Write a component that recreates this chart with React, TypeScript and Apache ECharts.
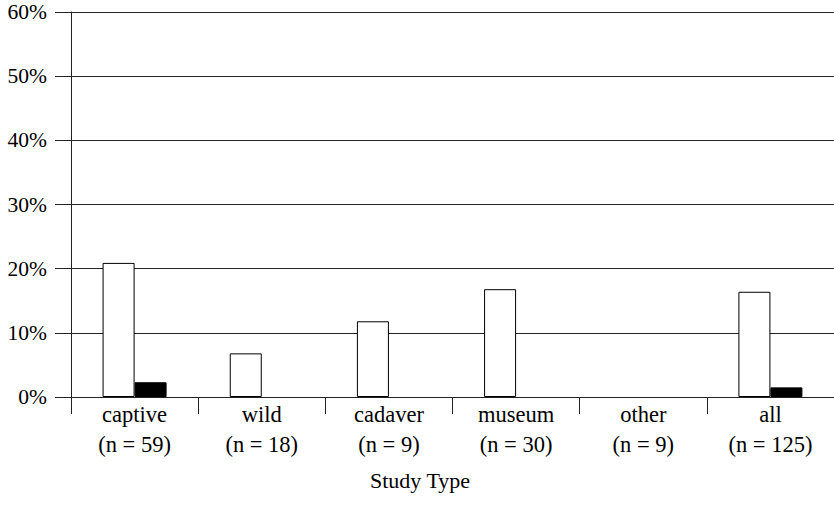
import React, { useEffect, useRef } from "react";
import * as echarts from "echarts";

const categories = ["captive\n(n = 59)", "wild\n(n = 18)", "cadaver\n(n = 9)", "museum\n(n = 30)", "other\n(n = 9)", "all\n(n = 125)"];
const whiteValues = [20.9, 6.8, 11.8, 16.8, null, 16.4];
const blackValues = [2.3, null, null, null, null, 1.5];
const yTicks = [0, 10, 20, 30, 40, 50, 60];
const xTitle = "Study Type";

const FONT = "Liberation Serif";

export default function App() {
  const ref = useRef<HTMLDivElement>(null);
  useEffect(() => {
    if (!ref.current) return;
    const chart = echarts.init(ref.current, null, { renderer: "svg" });
    chart.setOption({
      animation: false,
      backgroundColor: "#fff",
      grid: { left: 71, right: 0, top: 12, bottom: 126, containLabel: false },
      xAxis: {
        type: "category",
        data: categories,
        boundaryGap: true,
        axisLine: { show: true, lineStyle: { color: "#222", width: 1 } },
        axisTick: { show: true, length: 17, lineStyle: { color: "#222", width: 1 } },
        axisLabel: {
          color: "#000",
          fontFamily: FONT,
          fontSize: 22.5,
          lineHeight: 30,
          margin: 2,
          interval: 0,
        },
        splitLine: { show: false },
      },
      yAxis: {
        type: "value",
        min: yTicks[0],
        max: yTicks[yTicks.length - 1],
        interval: 10,
        axisLine: { show: true, lineStyle: { color: "#222", width: 1 } },
        axisTick: { show: true, length: 16, inside: false, lineStyle: { color: "#222", width: 1 } },
        axisLabel: {
          color: "#000",
          fontFamily: FONT,
          fontSize: 21.5,
          margin: 24,
          formatter: (v: number) => `${v}%`,
        },
        splitLine: { show: true, lineStyle: { color: "#222", width: 1 } },
      },
      series: [
        {
          type: "bar",
          data: whiteValues,
          barWidth: 32,
          barGap: "0%",
          itemStyle: { color: "#fff", borderColor: "#000", borderWidth: 1 },
        },
        {
          type: "bar",
          data: blackValues,
          barWidth: 32,
          barGap: "0%",
          itemStyle: { color: "#000", borderColor: "#000", borderWidth: 1 },
        },
      ],
      graphic: [
        {
          type: "text",
          x: 420,
          y: 469,
          style: {
            text: xTitle,
            fill: "#000",
            font: "22px Liberation Serif",
            textAlign: "center",
          },
        },
      ],
    });
    return () => chart.dispose();
  }, []);
  return <div ref={ref} style={{ width: 834, height: 523, position: "absolute", left: 0, top: 0 }} />;
}
